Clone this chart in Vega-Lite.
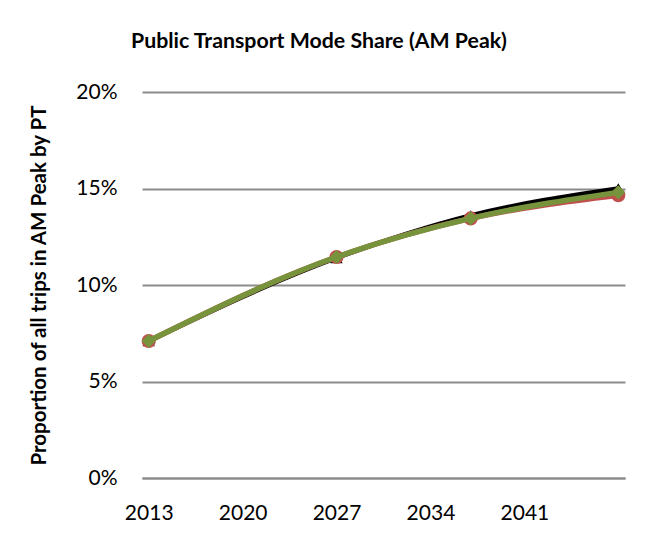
{
  "$schema": "https://vega.github.io/schema/vega-lite/v6.json",
  "width": 483,
  "height": 386,
  "autosize": "none",
  "padding": {"left": 142, "top": 92, "right": 29, "bottom": 68},
  "background": "white",
  "config": {"view": {"stroke": null}, "font": "Lato"},
  "title": {
    "text": "Public Transport Mode Share (AM Peak)",
    "frame": "group",
    "anchor": "start",
    "dx": -11,
    "offset": 29,
    "fontSize": 21.3,
    "fontWeight": "bold",
    "font": "Lato",
    "color": "black"
  },
  "data": {
    "values": [
      {"year": 2013, "series": "A", "share": 0.071},
      {"year": 2027, "series": "A", "share": 0.114},
      {"year": 2037, "series": "A", "share": 0.136},
      {"year": 2048, "series": "A", "share": 0.150},
      {"year": 2013, "series": "B", "share": 0.071},
      {"year": 2027, "series": "B", "share": 0.1145},
      {"year": 2037, "series": "B", "share": 0.1345},
      {"year": 2048, "series": "B", "share": 0.1465},
      {"year": 2013, "series": "C", "share": 0.071},
      {"year": 2027, "series": "C", "share": 0.1145},
      {"year": 2037, "series": "C", "share": 0.1345},
      {"year": 2048, "series": "C", "share": 0.148}
    ]
  },
  "encoding": {
    "x": {
      "field": "year",
      "type": "quantitative",
      "scale": {"domain": [2012.5, 2048.5], "nice": false, "zero": false},
      "axis": {
        "title": null,
        "values": [2013, 2020, 2027, 2034, 2041],
        "format": "d",
        "grid": false,
        "ticks": false,
        "domainColor": "#8c8c8c",
        "domainWidth": 2,
        "labelFontSize": 21,
        "labelColor": "black",
        "labelPadding": 24
      }
    },
    "y": {
      "field": "share",
      "type": "quantitative",
      "scale": {"domain": [0, 0.2], "nice": false},
      "axis": {
        "title": "Proportion of all trips in AM Peak by PT",
        "titleFontSize": 20.5,
        "titleFontWeight": "bold",
        "titleColor": "black",
        "titleX": -93,
        "values": [0, 0.05, 0.1, 0.15, 0.2],
        "format": ".0%",
        "domain": false,
        "ticks": false,
        "gridColor": "#8c8c8c",
        "gridWidth": 2,
        "labelFontSize": 21,
        "labelColor": "black",
        "labelPadding": 25
      }
    }
  },
  "layer": [
    {
      "transform": [{"filter": "datum.series == 'A'"}],
      "mark": {"type": "line", "color": "black", "strokeWidth": 4.5, "interpolate": "monotone",
               "point": {"shape": "triangle-up", "filled": true, "size": 150, "color": "black"}}
    },
    {
      "transform": [{"filter": "datum.series == 'B'"}],
      "mark": {"type": "line", "color": "#c0504d", "strokeWidth": 5.5, "interpolate": "monotone",
               "point": {"shape": "circle", "filled": true, "size": 200, "color": "#c0504d"}}
    },
    {
      "transform": [{"filter": "datum.series == 'C'"}],
      "mark": {"type": "line", "color": "#77933c", "strokeWidth": 5.5, "interpolate": "monotone",
               "point": {"shape": "diamond", "filled": true, "size": 200, "color": "#77933c"}}
    }
  ]
}
